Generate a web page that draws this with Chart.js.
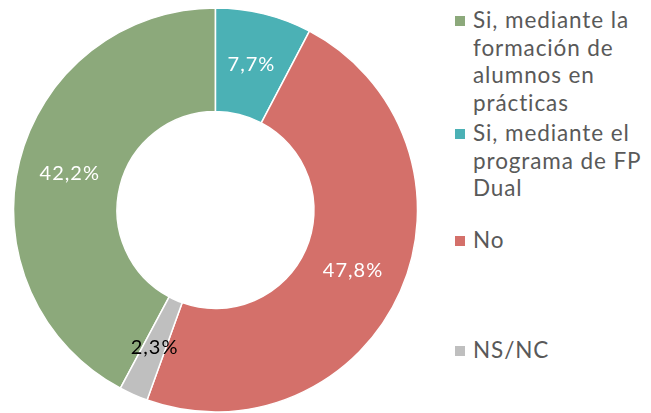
<!DOCTYPE html>
<html>
<head>
<meta charset="utf-8">
<script src="https://cdn.jsdelivr.net/npm/chart.js@4"></script>
<style>
  html, body { margin: 0; padding: 0; background: #fff; overflow: hidden; }
  #wrap { position: relative; width: 651px; height: 413px; }
  #caja { position: absolute; left: 0; top: 0; width: 431px; height: 420px; }
  #leyenda { position: absolute; left: 455px; top: 0; width: 196px; font-family: 'Lato', sans-serif; font-size: 22.5px; letter-spacing: 0.9px; color: #595959; white-space: nowrap; }
  .item { position: absolute; left: 0; display: flex; }
  .item span.cuadro { width: 10px; height: 10px; margin-top: 10px; margin-right: 8px; flex: none; }
  .item span.txt { line-height: 27.5px; }
</style>
</head>
<body>
<div id="wrap">
  <div id="caja"><canvas id="grafico"></canvas></div>
  <div id="leyenda"></div>
</div>
<script>
// datos
const categorias = ['Si, mediante la formación de alumnos en prácticas', 'Si, mediante el programa de FP Dual', 'No', 'NS/NC'];
const lineasLeyenda = [['Si, mediante la', 'formación de', 'alumnos en', 'prácticas'], ['Si, mediante el', 'programa de FP', 'Dual'], ['No'], ['NS/NC']];
const valores = [42.2, 7.7, 47.8, 2.3];
const colores = ['#8CA97B', '#4BB1B5', '#D4706A', '#BFBFBF'];
const coloresEtiqueta = ['#ffffff', '#ffffff', '#ffffff', '#000000'];
const posLeyenda = [6, 119, 226, 336];

// la primera porción (verde) termina arriba, asi que se gira hacia atras
const giro = -valores[0] / 100 * 360;

// etiquetas con el porcentaje dentro de cada porción
const pluginEtiquetas = {
    id: 'etiquetas',
    afterDatasetsDraw(chart) {
        const ctx = chart.ctx;
        const meta = chart.getDatasetMeta(0);
        ctx.save();
        ctx.font = '20px Lato, sans-serif';
        ctx.letterSpacing = '1px';
        ctx.textAlign = 'center';
        ctx.textBaseline = 'middle';
        meta.data.forEach((arco, i) => {
            const p = arco.tooltipPosition();
            ctx.fillStyle = coloresEtiqueta[i];
            ctx.fillText(valores[i].toFixed(1).replace('.', ',') + '%', p.x, p.y);
        });
        ctx.restore();
    }
};

const ctx = document.getElementById('grafico').getContext('2d');
window.graficoDona = new Chart(ctx, {
    type: 'doughnut',
    data: {
        labels: categorias,
        datasets: [{
            data: valores,
            backgroundColor: colores,
            borderColor: '#ffffff',
            borderWidth: 1.5,
            hoverOffset: 0
        }]
    },
    options: {
        responsive: true,
        maintainAspectRatio: false,
        animation: false,
        rotation: giro,
        radius: 202,
        cutout: 102,
        layout: { padding: 0 },
        plugins: {
            legend: { display: false },
            tooltip: { enabled: false }
        }
    },
    plugins: [pluginEtiquetas]
});

// leyenda a mano para poder partir las lineas como en el original
const leyenda = document.getElementById('leyenda');
categorias.forEach((c, i) => {
    const div = document.createElement('div');
    div.className = 'item';
    div.style.top = posLeyenda[i] + 'px';
    div.innerHTML = '<span class="cuadro" style="background:' + colores[i] + '"></span><span class="txt">' + lineasLeyenda[i].join('<br>') + '</span>';
    leyenda.appendChild(div);
});
</script>
</body>
</html>
